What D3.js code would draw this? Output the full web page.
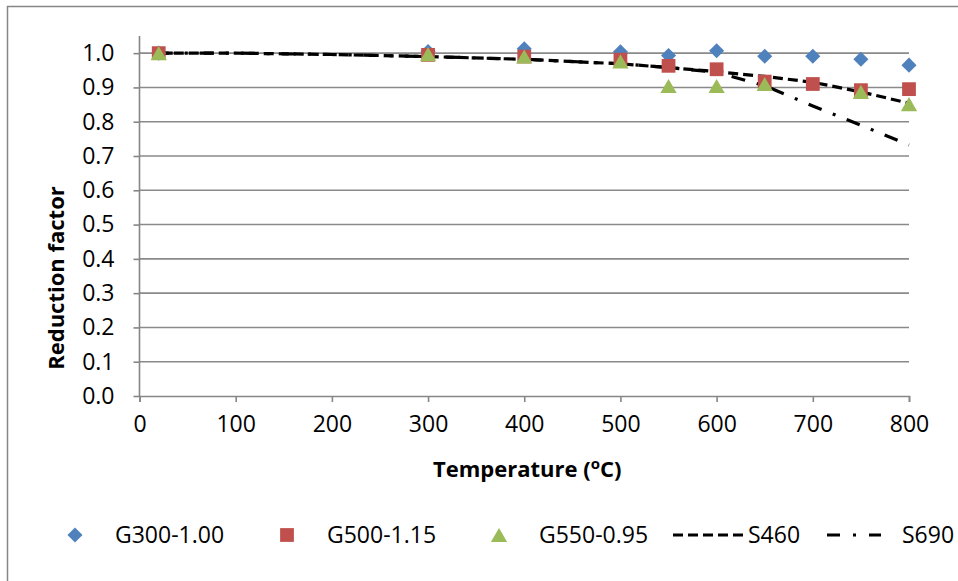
<!DOCTYPE html>
<html>
<head>
<meta charset="utf-8" />
<title>Reduction factor vs temperature</title>
<script src="https://d3js.org/d3.v7.min.js"></script>
<style type="text/css">
body { margin: 0; background: #fff; }
svg text { font-family: "Open Sans", "Noto Sans", sans-serif; fill: #000; }
</style>
</head>
<body>
<div id="chart"></div>
<script type="text/javascript">
// test temperatures (deg C) for the G series
var testTemps = [20, 300, 400, 500, 550, 600, 650, 700, 750, 800];
var g300 = [1.000, 1.005, 1.013, 1.004, 0.993, 1.007, 0.991, 0.991, 0.982, 0.965];
var g500 = [1.000, 0.995, 0.990, 0.981, 0.963, 0.953, 0.917, 0.910, 0.892, 0.895];
var g550 = [1.000, 0.997, 0.990, 0.976, 0.904, 0.904, 0.910, null, 0.887, 0.851];

// design curves
var curveTemps = [20, 100, 200, 300, 400, 500, 550, 600, 650, 700, 750, 800];
var s460 = [1.000, 1.000, 0.996, 0.990, 0.982, 0.969, 0.958, 0.946, 0.932, 0.915, 0.887, 0.854];
var s690 = [1.000, 1.000, 0.996, 0.990, 0.982, 0.969, 0.958, 0.944, 0.905, 0.846, 0.790, 0.732];

var xTicks = [0, 100, 200, 300, 400, 500, 600, 700, 800];
var yTicks = [0, 0.1, 0.2, 0.3, 0.4, 0.5, 0.6, 0.7, 0.8, 0.9, 1.0];

var width = 958,
    height = 581;

var svg = d3.select("#chart")
    .append("svg")
    .attr("width", width)
    .attr("height", height);

// chart area border
svg.append("rect")
    .attr("x", 7.5)
    .attr("y", 6.5)
    .attr("width", 1000)
    .attr("height", 1000)
    .attr("fill", "none")
    .attr("stroke", "#868686")
    .attr("stroke-width", 1.5);

var x = d3.scaleLinear().domain([0, 800]).range([139.5, 909]);
var y = d3.scaleLinear().domain([0, 1.05]).range([396, 36]);

// gridlines
svg.append("g")
    .selectAll("line")
    .data(yTicks.slice(1))
    .enter()
    .append("line")
    .attr("x1", x(0))
    .attr("x2", x(800))
    .attr("y1", d => y(d))
    .attr("y2", d => y(d))
    .attr("stroke", "#8a8a8a")
    .attr("stroke-width", 1.6);

var xAxis = d3.axisBottom(x).tickValues(xTicks).tickSize(6).tickPadding(14).tickFormat(d3.format("d"));
var yAxis = d3.axisLeft(y).tickValues(yTicks).tickSize(6).tickPadding(19).tickFormat(d3.format(".1f"));

var gX = svg.append("g")
    .attr("transform", "translate(0," + y(0) + ")")
    .call(xAxis);
var gY = svg.append("g")
    .attr("transform", "translate(" + x(0) + ",0)")
    .call(yAxis);

[gX, gY].forEach(function(g) {
    g.select(".domain").attr("stroke", "#868686").attr("stroke-width", 1.6);
    g.selectAll(".tick line").attr("stroke", "#868686").attr("stroke-width", 1.6);
    g.selectAll(".tick text")
        .attr("font-family", "'Open Sans', sans-serif")
        .attr("font-size", 23)
        .attr("fill", "#000");
});
gY.select(".domain").attr("d", "M0," + y(1.05) + "V" + y(0));

// axis titles
svg.append("text")
    .attr("x", (x(0) + x(800)) / 2 + 3)
    .attr("y", 477)
    .attr("text-anchor", "middle")
    .attr("font-size", 22)
    .attr("font-weight", "bold")
    .html('Temperature (<tspan font-size="15" dy="-8">o</tspan><tspan dy="8">C)</tspan>');

svg.append("text")
    .attr("transform", "translate(64," + 278 + ") rotate(-90)")
    .attr("text-anchor", "middle")
    .attr("font-size", 22)
    .attr("font-weight", "bold")
    .text("Reduction factor");

// design curves (drawn under the markers)
function curvePoints(vals) {
    return curveTemps.map((t, i) => [t, vals[i]]);
}
var line = d3.line().x(d => x(d[0])).y(d => y(d[1]));

var dashS460 = "10,5";
var dashS690 = "14,12,3,12";

svg.append("path")
    .datum(curvePoints(s460))
    .attr("d", line)
    .attr("fill", "none")
    .attr("stroke", "#000")
    .attr("stroke-width", 3.2)
    .attr("stroke-dasharray", dashS460);

svg.append("path")
    .datum(curvePoints(s690))
    .attr("d", line)
    .attr("fill", "none")
    .attr("stroke", "#000")
    .attr("stroke-width", 3.2)
    .attr("stroke-dasharray", dashS690);

// markers; triangles shifted so their box (not centroid) sits on the value
var diamond = d3.symbol().type(d3.symbolDiamond2).size(145);
var square = d3.symbol().type(d3.symbolSquare).size(190);
var triangle = d3.symbol().type(d3.symbolTriangle).size(115);

var series = [
    { name: "G300-1.00", vals: g300, color: "#4F81BD", sym: diamond, dy: 0 },
    { name: "G500-1.15", vals: g500, color: "#C0504D", sym: square, dy: 0 },
    { name: "G550-0.95", vals: g550, color: "#9BBB59", sym: triangle, dy: 2.3 }
];

series.forEach(function(s) {
    var pts = testTemps.map((t, i) => [t, s.vals[i]]).filter(d => d[1] != null);
    svg.append("g")
        .selectAll("path")
        .data(pts)
        .enter()
        .append("path")
        .attr("d", s.sym)
        .attr("transform", d => "translate(" + x(d[0]) + "," + (y(d[1]) + s.dy) + ")")
        .attr("fill", s.color);
});

// legend
var legendY = 535;
var legendX = [75, 287, 499];
series.forEach(function(s, i) {
    svg.append("path")
        .attr("d", s.sym)
        .attr("transform", "translate(" + legendX[i] + "," + (legendY + s.dy) + ")")
        .attr("fill", s.color);
    svg.append("text")
        .attr("x", legendX[i] + 40)
        .attr("y", legendY + 8)
        .attr("font-size", 23)
        .text(s.name);
});

var lineLegend = [
    { name: "S460", x0: 673, x1: 746, dash: dashS460, tx: 748 },
    { name: "S690", x0: 827, x1: 881, dash: "13,13,3,13", tx: 902 }
];
lineLegend.forEach(function(l) {
    svg.append("line")
        .attr("x1", l.x0)
        .attr("x2", l.x1)
        .attr("y1", legendY)
        .attr("y2", legendY)
        .attr("stroke", "#000")
        .attr("stroke-width", 3.2)
        .attr("stroke-dasharray", l.dash);
    svg.append("text")
        .attr("x", l.tx)
        .attr("y", legendY + 8)
        .attr("font-size", 23)
        .text(l.name);
});
</script>
</body>
</html>
